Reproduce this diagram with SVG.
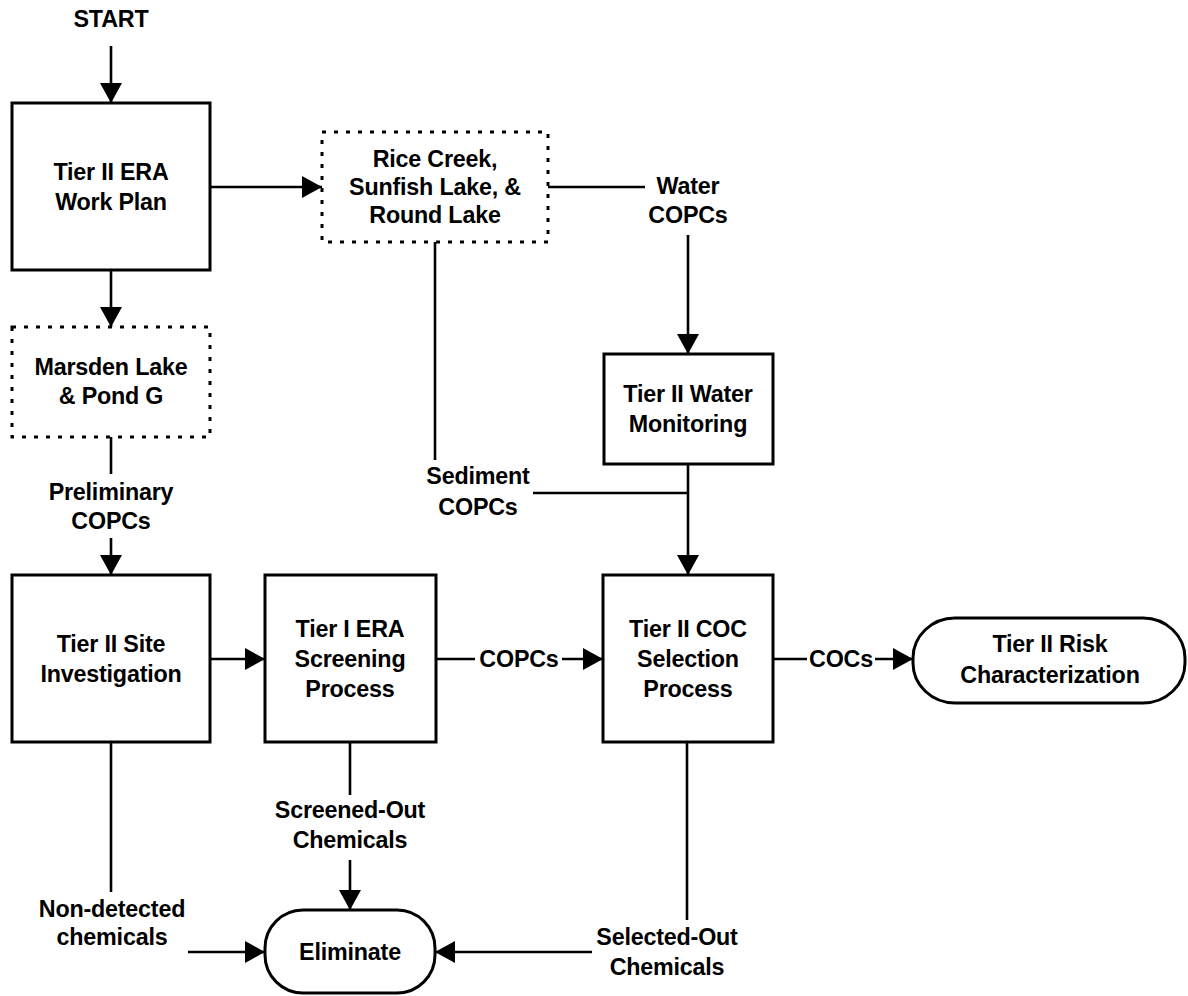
<svg xmlns="http://www.w3.org/2000/svg" width="1188" height="996" viewBox="0 0 1188 996">
<style>
text{font-family:"Liberation Sans",Arial,sans-serif;font-weight:bold;font-size:23.3px;fill:#000;text-anchor:middle;letter-spacing:-0.2px}
.box{fill:#fff;stroke:#000;stroke-width:3}
.dot{fill:#fff;stroke:#000;stroke-width:3;stroke-dasharray:4 8}
.ln{fill:none;stroke:#000;stroke-width:2.6}
</style>
<defs>
<marker id="ah" markerUnits="userSpaceOnUse" markerWidth="22" markerHeight="22" viewBox="0 0 20 22" refX="20" refY="11" orient="auto">
<path d="M0,0 L20,11 L0,22 Z" fill="#000"/>
</marker>
</defs>
<rect width="1188" height="996" fill="#fff"/>
<text x="111" y="27" font-size="22.5">START</text>
<g id="connectors">
<line class="ln" x1="111" y1="46" x2="111" y2="103" marker-end="url(#ah)"/>
<line class="ln" x1="210" y1="187" x2="322" y2="187" marker-end="url(#ah)"/>
<line class="ln" x1="111" y1="270" x2="111" y2="327" marker-end="url(#ah)"/>
<line class="ln" x1="111" y1="437" x2="111" y2="474"/>
<line class="ln" x1="111" y1="538" x2="111" y2="575" marker-end="url(#ah)"/>
<line class="ln" x1="548" y1="187" x2="645" y2="187"/>
<line class="ln" x1="688" y1="235" x2="688" y2="354" marker-end="url(#ah)"/>
<line class="ln" x1="435" y1="242" x2="435" y2="460"/>
<line class="ln" x1="533" y1="493" x2="688" y2="493"/>
<line class="ln" x1="688" y1="464" x2="688" y2="575" marker-end="url(#ah)"/>
<line class="ln" x1="210" y1="659" x2="265" y2="659" marker-end="url(#ah)"/>
<line class="ln" x1="436" y1="659" x2="475" y2="659"/>
<line class="ln" x1="562" y1="659" x2="603" y2="659" marker-end="url(#ah)"/>
<line class="ln" x1="773" y1="659" x2="807" y2="659"/>
<line class="ln" x1="875" y1="659" x2="913" y2="659" marker-end="url(#ah)"/>
<line class="ln" x1="111" y1="742" x2="111" y2="892"/>
<line class="ln" x1="188" y1="952" x2="265" y2="952" marker-end="url(#ah)"/>
<line class="ln" x1="350" y1="742" x2="350" y2="795"/>
<line class="ln" x1="350" y1="860" x2="350" y2="910" marker-end="url(#ah)"/>
<line class="ln" x1="687" y1="742" x2="687" y2="920"/>
<line class="ln" x1="592" y1="952" x2="435" y2="952" marker-end="url(#ah)"/>
<text x="111" y="500">Preliminary</text>
<text x="111" y="529">COPCs</text>
<text x="688" y="194">Water</text>
<text x="688" y="223">COPCs</text>
<text x="478" y="484">Sediment</text>
<text x="478" y="515">COPCs</text>
<text x="519" y="667">COPCs</text>
<text x="841" y="667">COCs</text>
<text x="350" y="818">Screened-Out</text>
<text x="350" y="848">Chemicals</text>
<text x="112" y="917">Non-detected</text>
<text x="112" y="945">chemicals</text>
<text x="667" y="945">Selected-Out</text>
<text x="667" y="975">Chemicals</text>
</g>
<g id="workplan">
<rect class="box" x="12" y="103" width="198" height="167"/>
<text x="111" y="180">Tier II ERA</text>
<text x="111" y="210">Work Plan</text>
</g>
<g id="rice">
<rect class="dot" x="322" y="132" width="226" height="110"/>
<text x="435" y="167">Rice Creek,</text>
<text x="435" y="195">Sunfish Lake, &amp;</text>
<text x="435" y="223">Round Lake</text>
</g>
<g id="marsden">
<rect class="dot" x="12" y="327" width="198" height="110"/>
<text x="111" y="375">Marsden Lake</text>
<text x="111" y="404">&amp; Pond G</text>
</g>
<g id="monitoring">
<rect class="box" x="604" y="354" width="169" height="110"/>
<text x="688" y="402">Tier II Water</text>
<text x="688" y="432">Monitoring</text>
</g>
<g id="site">
<rect class="box" x="12" y="575" width="198" height="167"/>
<text x="111" y="652">Tier II Site</text>
<text x="111" y="682">Investigation</text>
</g>
<g id="screening">
<rect class="box" x="265" y="575" width="171" height="167"/>
<text x="350" y="637">Tier I ERA</text>
<text x="350" y="667">Screening</text>
<text x="350" y="697">Process</text>
</g>
<g id="coc">
<rect class="box" x="603" y="575" width="170" height="167"/>
<text x="688" y="637">Tier II COC</text>
<text x="688" y="667">Selection</text>
<text x="688" y="697">Process</text>
</g>
<g id="risk">
<rect class="box" x="913" y="618" width="272" height="85" rx="42" ry="40"/>
<text x="1050" y="652">Tier II Risk</text>
<text x="1050" y="683">Characterization</text>
</g>
<g id="eliminate">
<rect class="box" x="265" y="910" width="170" height="83" rx="38" ry="38"/>
<text x="350" y="960">Eliminate</text>
</g>
</svg>
